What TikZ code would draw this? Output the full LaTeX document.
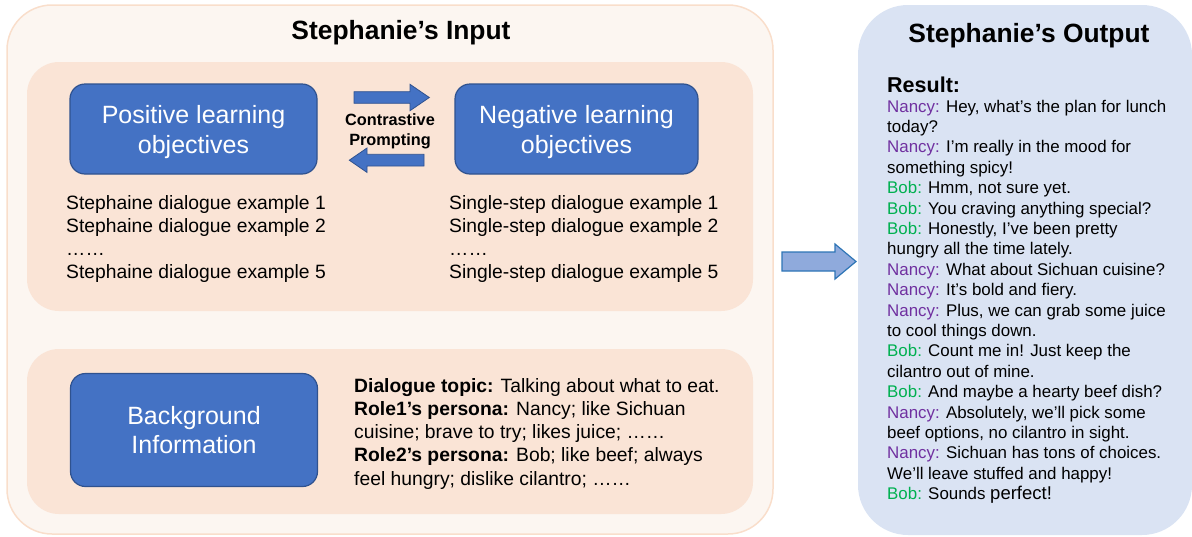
\documentclass[tikz,border=0pt]{standalone}
\usepackage{fontspec}
\setmainfont{Liberation Sans}
\definecolor{inputbg}{HTML}{FCF6F1}
\definecolor{inputedge}{HTML}{F9DECB}
\definecolor{innerbg}{HTML}{FAE4D6}
\definecolor{outputbg}{HTML}{DAE3F3}
\definecolor{boxblue}{HTML}{4472C4}
\definecolor{boxedge}{HTML}{2F528F}
\definecolor{arrowfill}{HTML}{8FAADC}
\definecolor{arrowedge}{HTML}{2E75B6}
\definecolor{nancyc}{HTML}{7030A0}
\definecolor{bobc}{HTML}{00B050}
\newcommand\nancytag{{\color{nancyc}Nancy:}}
\newcommand\bobtag{{\color{bobc}Bob:}}
\tikzset{
  outerpanel/.style={fill=inputbg, draw=inputedge, line width=1.5pt, rounded corners=45pt},
  innerpanel/.style={fill=innerbg, rounded corners=32pt},
  objbox/.style={fill=boxblue, draw=boxedge, line width=1.2pt, rounded corners=15pt,
    text=white, align=center, minimum width=247pt, font=\fontsize{25}{29.5}\selectfont},
  blockarrow/.style={fill=boxblue, draw=boxedge, line width=0.8pt},
  titletext/.style={anchor=base, inner sep=0pt, font=\fontsize{26.4}{30}\selectfont\bfseries},
  listtext/.style={anchor=base west, inner sep=0pt, font=\fontsize{19.3}{23.2}\selectfont},
  dlgtext/.style={anchor=base west, inner sep=0pt, font=\fontsize{16.9}{20.4}\selectfont}
}
\begin{document}
\begin{tikzpicture}[x=1pt,y=-1pt]
  \useasboundingbox (0,0) rectangle (1192,536);
  % Input side
  \draw[outerpanel] (7,5) rectangle (773,534);
  \fill[innerpanel] (27,62) rectangle (753,311);
  \fill[innerpanel] (27,349) rectangle (753,514);
  \node[titletext] (intitle) at (401,39.5) {Stephanie’s Input};
  % Objective boxes
  \node[objbox, minimum height=90pt] (posobj) at (193.5,129) {\rule{0pt}{24pt}Positive learning\\objectives};
  \node[objbox, minimum width=243pt, minimum height=90pt] (negobj) at (576.5,129) {\rule{0pt}{24pt}Negative learning\\objectives};
  % Contrastive prompting arrows
  \filldraw[blockarrow] (354,91.7) -- (410,91.7) -- (410,84.3) -- (429.3,97.5)
    -- (410,110.7) -- (410,103.3) -- (354,103.3) -- cycle;
  \filldraw[blockarrow] (424,154.3) -- (367,154.3) -- (367,148) -- (349.3,160.2)
    -- (367,172.4) -- (367,166) -- (424,166) -- cycle;
  \node[align=center, inner sep=0pt, font=\fontsize{16.3}{19.7}\selectfont\bfseries]
    (contrast) at (390,131) {Contrastive\\Prompting};
  % Example lists
  \foreach \k/\t in {0/{Stephaine dialogue example 1},1/{Stephaine dialogue example 2},
      2/{……},3/{Stephaine dialogue example 5}} {
    \node[listtext] (posex\k) at (66,{209+23*\k}) {\t};
  }
  \foreach \k/\t in {0/{Single-step dialogue example 1},1/{Single-step dialogue example 2},
      2/{……},3/{Single-step dialogue example 5}} {
    \node[listtext] (negex\k) at (449,{209+23*\k}) {\t};
  }
  % Background information
  \node[objbox, minimum height=113pt] (backinfo) at (194,430) {Background\\Information};
  \foreach \k/\t in {0/{\textbf{Dialogue topic:} Talking about what to eat.},
      1/{\textbf{Role1’s persona:} Nancy; like Sichuan},
      2/{cuisine; brave to try; likes juice; ……},
      3/{\textbf{Role2’s persona:} Bob; like beef; always},
      4/{feel hungry; dislike cilantro; ……}} {
    \node[listtext] (bginfo\k) at (354,{392+23.25*\k}) {\t};
  }
  % Arrow to output
  \filldraw[fill=arrowfill, draw=arrowedge, line width=1.2pt] (782,252) -- (835,252) -- (835,244)
    -- (856,261.5) -- (835,279) -- (835,271) -- (782,271) -- cycle;
  % Output side
  \fill[outputbg, rounded corners=50pt] (858,5) rectangle (1192,535);
  \node[titletext] (outtitle) at (1029,42.5) {Stephanie’s Output};
  \node[anchor=base west, inner sep=0pt, font=\fontsize{21.5}{24}\selectfont\bfseries]
    (result) at (887,92) {Result:};
  \foreach \k/\t in {0/{\nancytag{} Hey, what’s the plan for lunch},
      1/{today?},
      2/{\nancytag{} I’m really in the mood for},
      3/{something spicy!},
      4/{\bobtag{} Hmm, not sure yet.},
      5/{\bobtag{} You craving anything special?},
      6/{\bobtag{} Honestly, I’ve been pretty},
      7/{hungry all the time lately.},
      8/{\nancytag{} What about Sichuan cuisine?},
      9/{\nancytag{} It’s bold and fiery.},
      10/{\nancytag{} Plus, we can grab some juice},
      11/{to cool things down.},
      12/{\bobtag{} Count me in! Just keep the},
      13/{cilantro out of mine.},
      14/{\bobtag{} And maybe a hearty beef dish?},
      15/{\nancytag{} Absolutely, we’ll pick some},
      16/{beef options, no cilantro in sight.},
      17/{\nancytag{} Sichuan has tons of choices.},
      18/{We’ll leave stuffed and happy!},
      19/{\bobtag{} Sounds {\fontsize{18.5}{20.4}\selectfont perfect!}}} {
    \node[dlgtext] (dlg\k) at (887,{112+20.4*\k}) {\t};
  }
\end{tikzpicture}
\end{document}
